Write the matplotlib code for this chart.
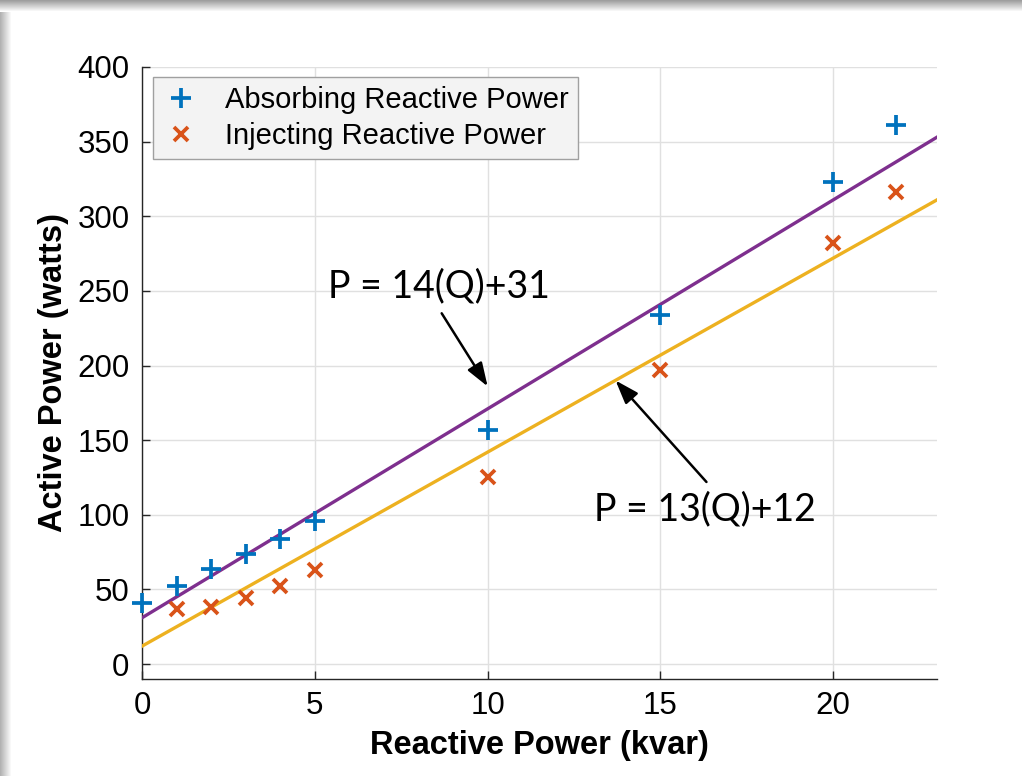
import numpy as np
import matplotlib
matplotlib.use("Agg")
import matplotlib.pyplot as plt

# Measured points
q_absorb = [0, 1, 2, 3, 4, 5, 10, 15, 20, 21.8]
p_absorb = [41, 52, 64, 74, 84, 96, 157, 234, 323, 361]
q_inject = [1, 2, 3, 4, 5, 10, 15, 20, 21.8]
p_inject = [37, 38, 44, 52, 63, 125, 197, 282, 316]

# Linear fits  P = m*Q + b
fit_absorb = (14, 31)
fit_inject = (13, 12)

x_ticks = [0, 5, 10, 15, 20]
y_ticks = [0, 50, 100, 150, 200, 250, 300, 350, 400]

BLUE = "#0072BD"
ORANGE = "#D95319"
YELLOW = "#EDB120"
PURPLE = "#7E2F8E"

plt.rcParams["font.family"] = ["Liberation Sans", "DejaVu Sans"]

fig = plt.figure(figsize=(10.22, 7.76), dpi=100)
fig.patch.set_facecolor("white")

# soft frame shadow on the top and left edges
W, H = 1022, 776
top = np.linspace(0.62, 1.0, 12)
fig.figimage(np.tile(top[:, None, None], (1, W, 3)),
             xo=0, yo=H - 12, origin="upper", zorder=0)
left = np.linspace(0.70, 1.0, 12)
fig.figimage(np.tile(left[None, :, None], (H - 12, 1, 3)),
             xo=0, yo=0, origin="upper", zorder=0)

ax = fig.add_axes([142 / W, 1 - 679 / H, (937 - 142) / W, (679 - 67) / H])
ax.set_xlim(0, 23)
ax.set_ylim(-10, 400)

qq = np.array([0, 23])
ax.plot(qq, fit_absorb[0] * qq + fit_absorb[1], color=PURPLE, lw=2.4, zorder=3)
ax.plot(qq, fit_inject[0] * qq + fit_inject[1], color=YELLOW, lw=2.4, zorder=3)

ax.plot(q_absorb, p_absorb, ls="none", marker="+", ms=15, mew=2.7,
        color=BLUE, label="Absorbing Reactive Power", zorder=4, clip_on=False)
ax.plot(q_inject, p_inject, ls="none", marker="x", ms=10.5, mew=2.7,
        color=ORANGE, label="Injecting Reactive Power", zorder=4, clip_on=False)

ax.set_xticks(x_ticks)
ax.set_yticks(y_ticks)
ax.tick_params(direction="in", length=6, width=1, labelsize=22.5,
               colors="#262626", labelcolor="black", pad=9)
ax.grid(True, color="#e0e0e0", lw=1)
ax.set_axisbelow(True)
for s in ("top", "right"):
    ax.spines[s].set_visible(False)
for s in ("left", "bottom"):
    ax.spines[s].set_color("#262626")
    ax.spines[s].set_linewidth(1)

ax.set_xlabel("Reactive Power (kvar)", fontsize=23.5, fontweight="bold", labelpad=6)
ax.set_ylabel("Active Power (watts)", fontsize=23.5, fontweight="bold", labelpad=6)

leg = ax.legend(loc="upper left", bbox_to_anchor=(0.0135, 0.984), fontsize=21,
                frameon=True, fancybox=False, framealpha=1, handlelength=1.3,
                handletextpad=0.85, borderpad=0.33, labelspacing=0.25,
                borderaxespad=0)
leg.get_frame().set_facecolor("#f3f3f3")
leg.get_frame().set_edgecolor("#a0a0a0")
leg.get_frame().set_linewidth(1)

ann_font = ["Lato", "DejaVu Sans"]
arrow = dict(arrowstyle="-|>,head_length=0.8,head_width=0.28", color="black",
             lw=1.8, mutation_scale=18, shrinkA=0, shrinkB=0)

ax.text(8.6, 253, "P = 14(Q)+31", fontsize=27, family=ann_font,
        ha="center", va="center")
ax.annotate("", xy=(10.0, 186), xytext=(8.67, 235), arrowprops=arrow)

ax.text(16.3, 104, "P = 13(Q)+12", fontsize=27, family=ann_font,
        ha="center", va="center")
ax.annotate("", xy=(13.7, 190), xytext=(16.33, 122), arrowprops=arrow)

fig.savefig("out.png", dpi=100, facecolor="white")
